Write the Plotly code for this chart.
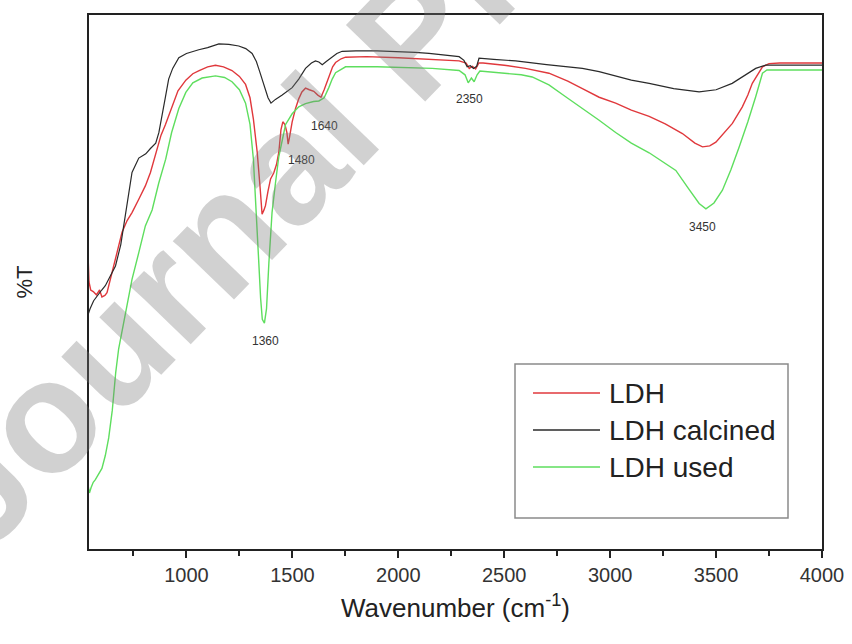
import plotly.graph_objects as go

# FTIR spectra (%T, arbitrary scale 0-100) against wavenumber (cm-1)
series_names = ["LDH", "LDH calcined", "LDH used"]
series_colors = ["#e0383c", "#2a2a2a", "#5ede5e"]

wn_ldh = [535, 540, 548, 560, 575, 590, 601, 615, 625, 640, 657, 675, 696, 720, 743, 775, 806, 830,
          855, 880, 901, 932, 960, 997, 1030, 1060, 1100, 1137, 1175, 1215, 1250, 1279, 1300, 1316,
          1334, 1348, 1357, 1366, 1373, 1385, 1397, 1412, 1425, 1436, 1446, 1455, 1465, 1474, 1480,
          1486, 1499, 1515, 1530, 1545, 1562, 1580, 1601, 1620, 1635, 1650, 1672, 1690, 1704, 1730,
          1751, 1850, 2000, 2150, 2287, 2320, 2335, 2350, 2365, 2380, 2400, 2500, 2600, 2711, 2800,
          2869, 2948, 3026, 3100, 3184, 3260, 3341, 3400, 3436, 3470, 3499, 3540, 3577, 3624, 3650,
          3671, 3700, 3719, 3750, 3800, 3900, 4000]
t_ldh = [55.5, 50.0, 48.5, 48.2, 47.6, 48.5, 47.2, 47.5, 48.0, 50.5, 52.9, 56.0, 59.3, 61.5, 63.0,
         65.5, 68.0, 70.5, 74.0, 77.5, 79.5, 83.0, 85.8, 87.8, 89.0, 89.6, 90.3, 90.6, 90.3, 89.6,
         88.5, 87.0, 84.5, 80.5, 74.3, 67.5, 62.7, 63.5, 64.3, 67.0, 69.3, 70.4, 72.0, 74.3, 78.5,
         80.0, 79.5, 78.0, 75.8, 77.0, 80.0, 82.5, 84.3, 85.6, 86.3, 86.0, 85.7, 85.0, 84.6, 86.0,
         88.6, 90.3, 91.1, 91.8, 92.1, 92.2, 92.0, 91.7, 91.4, 91.0, 90.0, 90.4, 89.9, 91.0, 91.0,
         90.6, 90.0, 89.1, 87.6, 86.2, 84.6, 83.5, 82.2, 81.0, 79.6, 77.8, 76.0, 75.3, 75.5, 76.2,
         78.0, 79.7, 82.8, 85.0, 87.2, 89.2, 90.3, 90.9, 91.0, 91.0, 91.0]

wn_calc = [535, 545, 562, 580, 600, 617, 640, 665, 690, 710, 730, 743, 775, 808, 830, 855, 870, 885,
           900, 916, 935, 964, 1000, 1058, 1100, 1153, 1200, 1247, 1280, 1310, 1330, 1345, 1360,
           1373, 1385, 1399, 1420, 1452, 1480, 1499, 1530, 1562, 1590, 1609, 1625, 1641, 1660, 1688,
           1710, 1735, 1800, 1900, 2003, 2080, 2145, 2200, 2287, 2310, 2325, 2340, 2355, 2370, 2381,
           2450, 2554, 2700, 2869, 2948, 3026, 3100, 3184, 3300, 3420, 3500, 3576, 3640, 3687, 3734,
           3800, 4000]
t_calc = [43.8, 45.0, 46.5, 47.5, 48.5, 49.3, 51.0, 53.0, 57.0, 62.0, 67.5, 70.5, 73.2, 74.0, 75.0,
          76.0, 78.0, 81.0, 84.5, 88.0, 90.0, 92.0, 92.8, 93.5, 93.9, 94.6, 94.5, 94.2, 93.7, 92.8,
          91.3, 89.5, 87.5, 85.7, 84.5, 83.5, 84.2, 85.0, 85.8, 86.4, 88.0, 90.0, 91.0, 91.4, 91.2,
          90.7, 91.3, 92.1, 92.8, 93.2, 93.3, 93.3, 93.2, 93.0, 92.8, 92.6, 92.2, 91.5, 90.3, 90.5,
          90.0, 90.4, 91.9, 91.7, 91.4, 90.7, 90.0, 89.4, 88.6, 87.8, 87.2, 86.2, 85.6, 86.0, 87.2,
          88.8, 90.0, 90.6, 90.6, 90.6]

wn_used = [535, 542, 550, 560, 570, 585, 601, 617, 633, 650, 666, 680, 696, 713, 743, 775, 806, 838,
           869, 902, 930, 964, 997, 1030, 1074, 1137, 1180, 1215, 1250, 1279, 1300, 1316, 1330, 1341,
           1350, 1358, 1368, 1378, 1389, 1404, 1420, 1436, 1452, 1468, 1499, 1530, 1562, 1600, 1625,
           1650, 1672, 1688, 1704, 1735, 1751, 1900, 2050, 2160, 2287, 2315, 2330, 2345, 2358, 2372,
           2385, 2450, 2500, 2580, 2632, 2711, 2790, 2870, 2948, 3026, 3100, 3184, 3250, 3310, 3370,
           3420, 3452, 3490, 3530, 3570, 3609, 3650, 3687, 3719, 3740, 3800, 4000]
t_used = [12.0, 10.5, 11.5, 12.5, 13.0, 14.0, 15.1, 17.5, 20.8, 26.0, 33.0, 37.5, 40.8, 44.5, 50.5,
          55.5, 60.5, 63.5, 68.5, 73.0, 78.0, 82.5, 85.5, 87.3, 88.2, 88.6, 88.3, 87.5, 86.0, 83.5,
          79.5, 73.0, 63.5, 54.0, 47.0, 43.0, 42.3, 45.0, 53.5, 63.0, 68.5, 73.5, 76.5, 79.5, 81.5,
          82.8, 83.4, 83.8, 83.9, 84.5, 86.4, 88.0, 89.2, 90.0, 90.3, 90.3, 90.2, 90.0, 89.6, 88.8,
          87.3, 88.2, 87.5, 88.8, 89.5, 89.3, 89.1, 88.8, 88.4, 86.9, 84.7, 82.5, 80.3, 78.0, 76.0,
          74.2, 72.5, 70.9, 67.5, 64.7, 63.7, 64.8, 67.2, 71.0, 75.3, 80.0, 84.7, 89.1, 89.7, 89.7,
          89.7]

# Band assignments and where their labels sit
peak_labels = [1360, 1480, 1640, 2350, 3450]
label_x = [1372, 1541, 1650, 2334, 3436]
label_y = [39.0, 72.8, 79.3, 84.2, 60.3]

x_tick_vals = [1000, 1500, 2000, 2500, 3000, 3500, 4000]

FONT = "Liberation Sans, Arial, sans-serif"
W, H = 852, 644
ML, MR, MT, MB = 89, 30, 15, 95

fig = go.Figure()
for wn, t, name, col, w in [(wn_ldh, t_ldh, series_names[0], series_colors[0], 1.4),
                            (wn_calc, t_calc, series_names[1], series_colors[1], 1.2),
                            (wn_used, t_used, series_names[2], series_colors[2], 1.4)]:
    fig.add_trace(go.Scatter(x=wn, y=t, mode="lines", name=name,
                             line=dict(color=col, width=w), showlegend=False))

for lab, lx, ly in zip(peak_labels, label_x, label_y):
    fig.add_annotation(x=lx, y=ly, text=str(lab), showarrow=False,
                       font=dict(family=FONT, size=12, color="#333333"))

# Boxed legend in the lower right of the plot area
pw, ph = W - ML - MR, H - MT - MB
def px(xp):
    return (xp - ML) / pw
def py(yp):
    return (H - MB - yp) / ph

fig.add_shape(type="rect", xref="paper", yref="paper",
              x0=px(515), x1=px(788), y0=py(518), y1=py(364),
              line=dict(color="#8a8a8a", width=1.5), fillcolor="white", layer="above")
for i, (name, col) in enumerate(zip(series_names, series_colors)):
    yrow = 393 + 37 * i
    fig.add_shape(type="line", xref="paper", yref="paper",
                  x0=px(533), x1=px(600), y0=py(yrow), y1=py(yrow),
                  line=dict(color=col, width=1.5), layer="above")
    fig.add_annotation(xref="paper", yref="paper", x=px(607), y=py(yrow),
                       xanchor="left", yanchor="middle", text=name, showarrow=False,
                       font=dict(family=FONT, size=28, color="#222222"))

# Diagonal watermark
fig.add_annotation(xref="paper", yref="paper", x=px(412), y=py(36),
                   text="Journal Pre-proof", showarrow=False, textangle=-46,
                   xanchor="center", yanchor="middle",
                   font=dict(family=FONT, size=160, color="rgba(120,120,120,0.34)",
                             weight="bold"))

fig.update_layout(
    width=W, height=H,
    margin=dict(l=ML, r=MR, t=MT, b=MB, autoexpand=False),
    paper_bgcolor="white", plot_bgcolor="white",
    font=dict(family=FONT, color="#222222"),
    xaxis=dict(range=[540, 4000], tickvals=x_tick_vals, ticks="outside", ticklen=7,
               tickwidth=1.5, tickcolor="#222222", showline=True, linecolor="#222222",
               linewidth=2, mirror=True, showgrid=False, zeroline=False,
               tickfont=dict(size=20, color="#333333"),
               minor=dict(ticks="outside", ticklen=5, tickwidth=1.5, tickcolor="#222222",
                          dtick=250, tick0=0, showgrid=False),
               title=dict(text="Wavenumber (cm<sup>-1</sup>)", standoff=14,
                          font=dict(size=26, color="#222222"))),
    yaxis=dict(range=[0, 100], showticklabels=False, ticks="", showline=True,
               linecolor="#222222", linewidth=2, mirror=True, showgrid=False,
               zeroline=False,
               title=dict(text="%T", standoff=48, font=dict(size=22, color="#222222"))),
)

fig.write_html("out.html")
